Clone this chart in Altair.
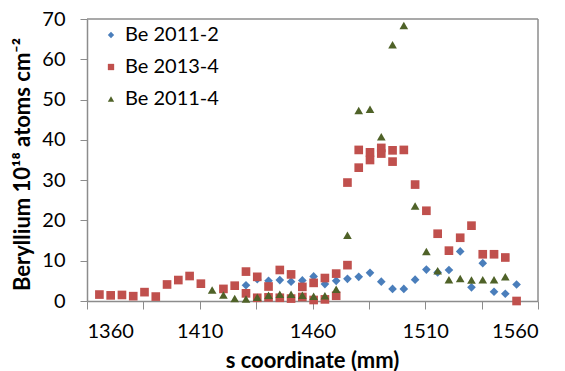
import altair as alt
import pandas as pd

# Be 2011-2 (blue diamonds)
s_b = [1430.5, 1435.5, 1440.5, 1445.5, 1450.5, 1455.5, 1460.5, 1465.5, 1470.5, 1475.5,
       1480.5, 1485.5, 1490.5, 1495.5, 1500.5, 1505.5, 1510.5, 1515.5, 1520.5, 1525.5,
       1530.5, 1535.5, 1540.5, 1545.5, 1550.5]
v_b = [3.9, 5.4, 5.0, 5.2, 4.8, 5.1, 6.1, 4.2, 5.0, 5.5,
       6.0, 7.0, 4.8, 3.0, 3.0, 5.3, 7.8, 7.1, 7.7, 12.3,
       3.4, 9.4, 2.3, 1.8, 4.1]

# Be 2013-4 (red squares)
s_r = [1365.5, 1370.5, 1375.5, 1380.5, 1385.5, 1390.5, 1395.5, 1400.5, 1405.5, 1410.5,
       1420.5, 1425.5, 1430.5, 1435.5, 1440.5, 1445.5, 1450.5, 1455.5, 1460.5, 1465.5,
       1470.5, 1475.5, 1475.5, 1480.5, 1480.5, 1485.5, 1485.5, 1490.5, 1490.5, 1495.5,
       1495.5, 1500.5, 1505.5, 1510.5, 1515.5, 1520.5, 1525.5, 1530.5, 1535.5, 1540.5,
       1545.5, 1550.5,
       1430.5, 1435.5, 1440.5, 1445.5, 1450.5, 1455.5, 1460.5, 1465.5, 1470.5]
v_r = [1.6, 1.4, 1.5, 1.2, 2.2, 1.1, 4.1, 5.2, 6.2, 4.3,
       3.0, 3.8, 7.3, 6.0, 3.6, 7.7, 6.6, 3.5, 4.5, 5.7,
       6.8, 8.9, 29.4, 37.5, 33.1, 36.9, 35.0, 38.0, 36.6, 37.4,
       34.6, 37.5, 28.9, 22.4, 16.7, 12.5, 15.7, 18.7, 11.6, 11.6,
       10.8, 0.0,
       1.9, 0.8, 0.9, 0.8, 0.6, 1.0, 0.25, 0.4, 1.3]

# Be 2011-4 (green triangles)
s_g = [1415.5, 1420.5, 1425.5, 1430.5, 1435.5, 1440.5, 1445.5, 1450.5, 1455.5, 1460.5,
       1465.5, 1470.5, 1475.5, 1480.5, 1485.5, 1490.5, 1495.5, 1500.5, 1505.5, 1510.5,
       1515.5, 1520.5, 1525.5, 1530.5, 1535.5, 1540.5, 1545.5]
v_g = [2.7, 1.5, 0.6, 0.5, 0.9, 1.4, 1.65, 1.65, 1.4, 1.15,
       1.3, 2.9, 16.3, 47.3, 47.6, 40.8, 63.6, 68.4, 23.6, 12.3,
       7.5, 5.3, 5.6, 5.2, 5.3, 5.3, 6.0]

series = ["Be 2011-2", "Be 2013-4", "Be 2011-4"]
colors = ["#4A7EBB", "#C0504D", "#4F6228"]
shapes = ["diamond", "square", "triangle-up"]

x_ticks = [1360, 1385, 1410, 1435, 1460, 1485, 1510, 1535, 1560]
y_ticks = [0, 10, 20, 30, 40, 50, 60, 70]
x_domain = [1360, 1560]
y_domain = [0, 70]

rows = []
for name, xs, ys in [(series[0], s_b, v_b), (series[1], s_r, v_r), (series[2], s_g, v_g)]:
    for xv, yv in zip(xs, ys):
        rows.append({"s": xv, "be": yv, "series": name})
df = pd.DataFrame(rows)

FONT = "Lato"
FRAME = "#8C8C8C"

xscale = alt.Scale(domain=x_domain, nice=False, zero=False)
yscale = alt.Scale(domain=y_domain, nice=False)

points = alt.Chart(df).mark_point(filled=True, opacity=1, size=75, strokeWidth=0).encode(
    x=alt.X("s:Q", scale=xscale,
            axis=alt.Axis(values=x_ticks, grid=False, format="d",
                          labelExpr="(datum.value - 1360) % 50 == 0 ? datum.label : ''",
                          title="s coordinate (mm)",
                          titleX=225, titleY=59, titleBaseline="middle",
                          labelPadding=12, tickSize=8)),
    y=alt.Y("be:Q", scale=yscale,
            axis=alt.Axis(values=y_ticks, grid=False,
                          title="Beryllium 10¹⁸ atoms cm⁻²",
                          titleX=-65, titleY=145, titleAngle=-90,
                          titleBaseline="middle", titleAlign="center",
                          labelPadding=15, tickSize=7)),
    color=alt.Color("series:N", scale=alt.Scale(domain=series, range=colors),
                    legend=alt.Legend(title=None, orient="none", legendX=14, legendY=6,
                                      symbolSize=40, rowPadding=12, padding=0,
                                      labelFont=FONT, labelFontSize=20, labelColor="#000",
                                      symbolStrokeWidth=0, labelOffset=4)),
    shape=alt.Shape("series:N", scale=alt.Scale(domain=series, range=shapes)),
    order=alt.Order("ord:Q"),
).transform_calculate(
    ord="datum.series == 'Be 2011-2' ? 0 : (datum.series == 'Be 2013-4' ? 1 : 2)"
)

top_rule = alt.Chart(pd.DataFrame({"y": [y_domain[1]]})).mark_rule(
    color=FRAME, strokeWidth=1.5).encode(y=alt.Y("y:Q", scale=yscale))
right_rule = alt.Chart(pd.DataFrame({"x": [x_domain[1]]})).mark_rule(
    color=FRAME, strokeWidth=1.5).encode(x=alt.X("x:Q", scale=xscale))

chart = alt.layer(top_rule, right_rule, points).properties(
    width=451, height=282,
    autosize=alt.AutoSizeParams(type="none"),
    padding={"left": 79, "top": 11, "right": 18, "bottom": 70},
).configure_view(
    stroke=None
).configure_axis(
    domainColor=FRAME, tickColor=FRAME, domainWidth=1.5,
    labelFont=FONT, labelFontSize=20, labelColor="#000",
    titleFont=FONT, titleFontSize=22, titleFontWeight="bold", titleColor="#000",
)

chart.save("out.html", embed_options={"renderer": "svg", "actions": False})
